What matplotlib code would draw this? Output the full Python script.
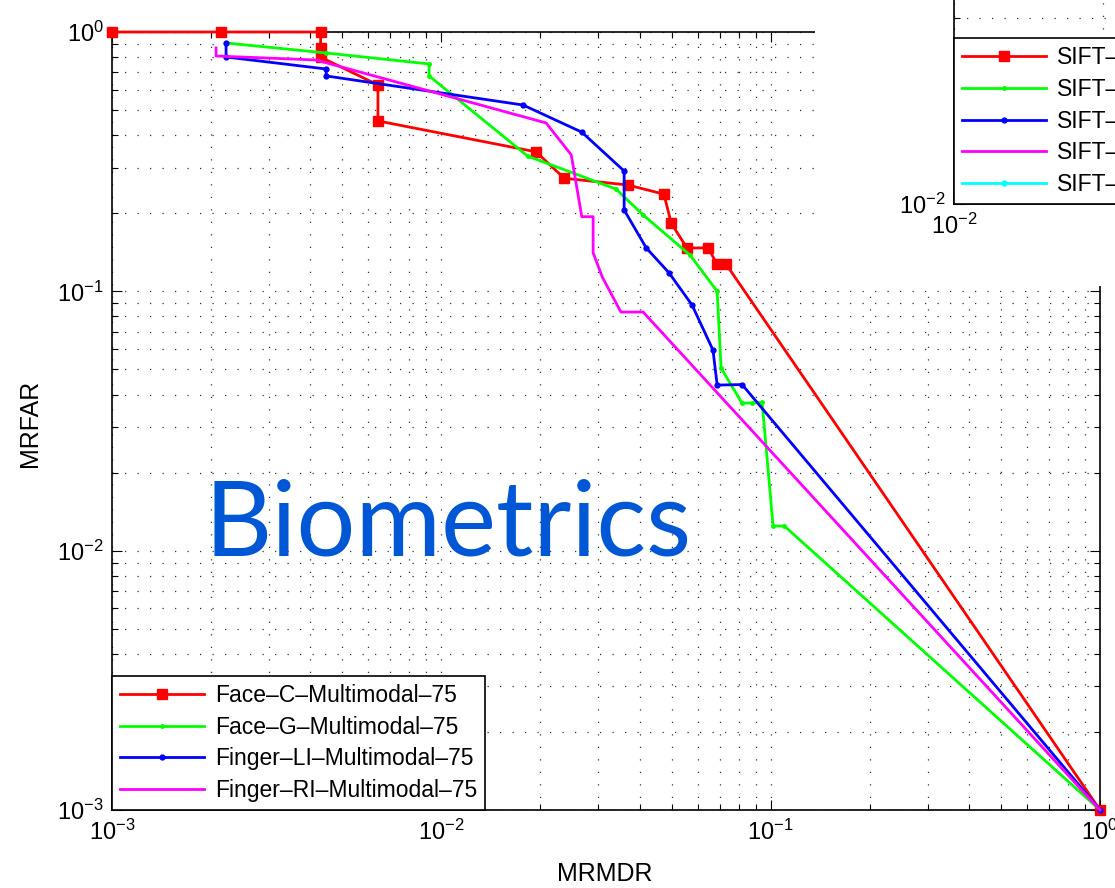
import numpy as np
import matplotlib
matplotlib.use("Agg")
import matplotlib.pyplot as plt
from matplotlib.ticker import LogLocator, NullFormatter

plt.rcParams['font.family'] = ['Liberation Sans', 'DejaVu Sans']
plt.rcParams['mathtext.fontset'] = 'custom'
plt.rcParams['mathtext.rm'] = 'Liberation Sans'
plt.rcParams['mathtext.it'] = 'Liberation Sans'

# ---- data (MRMDR, MRFAR) ----
face_c_x = [1e-3, 2.15e-3, 4.3e-3, 4.3e-3, 4.3e-3, 6.42e-3, 6.42e-3, 1.94e-2, 2.36e-2,
            3.69e-2, 4.74e-2, 4.99e-2, 5.57e-2, 6.46e-2, 6.88e-2, 7.33e-2, 1.0]
face_c_y = [1.0, 1.0, 1.0, 0.87, 0.80, 0.625, 0.454, 0.345, 0.273,
            0.257, 0.237, 0.183, 0.147, 0.147, 0.127, 0.127, 1e-3]

face_g_x = [2.22e-3, 4.47e-3, 9.18e-3, 9.18e-3, 1.83e-2, 3.39e-2, 4.10e-2, 5.69e-2, 6.88e-2,
            7.07e-2, 8.18e-2, 8.79e-2, 9.42e-2, 0.1017, 0.110, 1.0]
face_g_y = [0.907, 0.830, 0.753, 0.677, 0.332, 0.248, 0.197, 0.138, 0.100,
            0.0506, 0.0371, 0.0371, 0.0373, 0.01245, 0.01245, 1e-3]

finger_li_x = [2.22e-3, 2.22e-3, 4.47e-3, 4.47e-3, 1.77e-2, 2.67e-2, 3.59e-2, 3.59e-2, 4.19e-2,
               4.91e-2, 5.77e-2, 6.68e-2, 6.88e-2, 8.19e-2, 1.0]
finger_li_y = [0.907, 0.801, 0.720, 0.677, 0.523, 0.411, 0.291, 0.206, 0.147,
               0.118, 0.0886, 0.0594, 0.0435, 0.0437, 1e-3]

finger_ri_x = [2.07e-3, 2.07e-3, 4.16e-3, 2.08e-2, 2.48e-2, 2.67e-2, 2.89e-2, 2.89e-2, 3.08e-2,
               3.51e-2, 4.10e-2, 1.0]
finger_ri_y = [0.868, 0.808, 0.780, 0.446, 0.336, 0.194, 0.194, 0.141, 0.1136,
               0.0832, 0.0832, 1e-3]

labels = ['Face–C–Multimodal–75', 'Face–G–Multimodal–75',
          'Finger–LI–Multimodal–75', 'Finger–RI–Multimodal–75']
colors = ['#ff0000', '#00ff00', '#0000ff', '#ff00ff']
markers = ['s', '.', '.', None]
msizes = [7, 5, 7, 0]

# legend of the figure lying on top (only partly visible)
sift_labels = ['SIFT–C–Multimodal–75', 'SIFT–G–Multimodal–75', 'SIFT–LI–Multimodal–75',
               'SIFT–RI–Multimodal–75', 'SIFT–Fusion–Multimodal–75']
sift_colors = ['#ff0000', '#00ff00', '#0000ff', '#ff00ff', '#00ffff']
sift_markers = ['s', '.', '.', None, '.']
sift_msizes = [7, 5, 7, 0, 7]

W, H = 1115, 888
fig = plt.figure(figsize=(W / 100, H / 100), dpi=100)


def px_box(l, t, r, b):
    return [l / W, (H - b) / H, (r - l) / W, (b - t) / H]


def style_log_axes(a):
    a.set_xscale('log')
    a.set_yscale('log')
    a.grid(True, which='both', color='#333333', linestyle=(0, (1, 9)), linewidth=0.9)
    a.tick_params(which='both', direction='in', top=True, right=True, labelsize=17, colors='black')
    a.tick_params(which='major', length=7, width=0.8)
    a.tick_params(which='minor', length=4, width=0.8)
    a.xaxis.set_minor_locator(LogLocator(base=10, subs=np.arange(2, 10)))
    a.yaxis.set_minor_locator(LogLocator(base=10, subs=np.arange(2, 10)))
    a.xaxis.set_minor_formatter(NullFormatter())
    a.yaxis.set_minor_formatter(NullFormatter())
    for s in a.spines.values():
        s.set_linewidth(1.2)
    a.tick_params(axis='x', pad=7)
    a.tick_params(axis='y', pad=6)


def make_legend(a):
    lg = a.legend(loc='lower left', fontsize=16.5, borderaxespad=0, fancybox=False, edgecolor='black',
                  framealpha=1, handlelength=3.65, handletextpad=0.5, labelspacing=0.38, borderpad=0.35)
    lg.get_frame().set_linewidth(1.2)
    return lg


ax = fig.add_axes(px_box(112, 32, 1100, 810))
style_log_axes(ax)
ax.set_xlim(1e-3, 1)
ax.set_ylim(1e-3, 1)

series = [(face_c_x, face_c_y), (face_g_x, face_g_y), (finger_li_x, finger_li_y), (finger_ri_x, finger_ri_y)]
for (xs, ys), lab, c, m, ms in zip(series, labels, colors, markers, msizes):
    ax.plot(xs, ys, color=c, lw=2, marker=m, markersize=ms, label=lab, clip_on=False, zorder=3)

make_legend(ax)

ax.set_xlabel('MRMDR', fontsize=18)
ax.set_ylabel('MRFAR', fontsize=18)
ax.xaxis.set_label_coords(0.499, -0.067)
ax.yaxis.set_label_coords(-0.071, 0.497)

fig.text(205 / W, (H - 555) / H, 'Biometrics', fontsize=75, color='#0057d6',
         family=['Lato', 'DejaVu Sans'], ha='left', va='baseline')

# white page of the other figure covering the top-right corner
cover = fig.add_axes(px_box(815, 0, W + 5, 286))
cover.set_facecolor('white')
cover.set_xticks([])
cover.set_yticks([])
for s in cover.spines.values():
    s.set_visible(False)
cover.set_zorder(5)

ax2 = fig.add_axes(px_box(954, 204 - 780, 954 + 990, 204))
style_log_axes(ax2)
ax2.set_xlim(1e-2, 1)
ax2.set_ylim(1e-2, 1)
ax2.set_zorder(6)
ax2.set_facecolor('none')
for lab, c, m, ms in zip(sift_labels, sift_colors, sift_markers, sift_msizes):
    ax2.plot([], [], color=c, lw=2, marker=m, markersize=ms, label=lab)
make_legend(ax2)

fig.savefig('out.png', dpi=100)
